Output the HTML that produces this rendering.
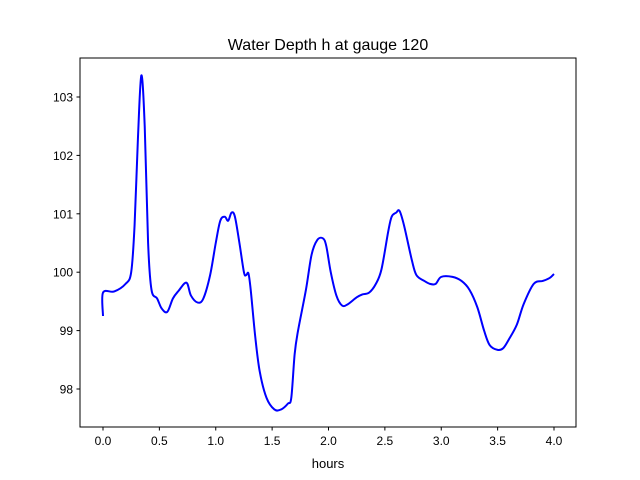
<!DOCTYPE html>
<html><head><meta charset="utf-8"><style>
body{margin:0;background:#fff;}
svg{display:block;font-family:"Liberation Sans","DejaVu Sans",sans-serif;}
</style></head><body>
<svg id="chart" width="640" height="480" viewBox="0 0 640 480">
<rect width="640" height="480" fill="#fff"/>
<text x="328" y="50" text-anchor="middle" font-size="16">Water Depth h at gauge 120</text>
<g id="plot"></g>
<rect x="80" y="58" width="496" height="369" fill="none" stroke="#000" stroke-width="1"/>
<text x="328" y="468" text-anchor="middle" font-size="13">hours</text>
</svg>
<script>
const hours=[0,0,0.1,0.2,0.25,0.28,0.31,0.34,0.37,0.40,0.43,0.48,0.52,0.57,0.62,0.67,0.74,0.78,0.84,0.89,0.95,1.0,1.04,1.08,1.11,1.14,1.17,1.21,1.25,1.27,1.29,1.31,1.35,1.39,1.45,1.52,1.58,1.64,1.67,1.7,1.73,1.8,1.85,1.9,1.95,1.98,2.02,2.07,2.12,2.17,2.25,2.3,2.36,2.42,2.47,2.53,2.56,2.6,2.63,2.67,2.74,2.78,2.85,2.9,2.95,3.0,3.1,3.18,3.25,3.32,3.38,3.43,3.5,3.55,3.6,3.67,3.73,3.82,3.9,3.96,4.0];
const depth=[99.25,99.65,99.67,99.8,100.0,100.8,102.3,103.37,102.5,100.5,99.7,99.55,99.38,99.32,99.55,99.68,99.82,99.6,99.48,99.55,99.95,100.5,100.88,100.95,100.88,101.02,100.95,100.5,100.0,99.95,99.98,99.7,98.9,98.3,97.85,97.65,97.65,97.75,97.85,98.6,99.0,99.7,100.3,100.55,100.58,100.45,100.0,99.6,99.43,99.45,99.57,99.62,99.65,99.8,100.05,100.7,100.95,101.02,101.05,100.8,100.2,99.95,99.85,99.8,99.8,99.92,99.92,99.85,99.7,99.4,99.0,98.75,98.67,98.7,98.85,99.1,99.45,99.8,99.85,99.9,99.97];
const xTicks=[0,0.5,1,1.5,2,2.5,3,3.5,4];
const xTickLabels=["0.0","0.5","1.0","1.5","2.0","2.5","3.0","3.5","4.0"];
const yTicks=[98,99,100,101,102,103];
const yTickLabels=["98","99","100","101","102","103"];
const X=v=>103+v*112.75;
const Y=v=>97+(103-v)*58.4;
const NS="http://www.w3.org/2000/svg";
const g=document.getElementById('plot');
function el(t,a){const e=document.createElementNS(NS,t);for(const k in a)e.setAttribute(k,a[k]);g.appendChild(e);return e;}
xTicks.forEach((t,i)=>{
 const l=el('line',{x1:X(t),x2:X(t),y1:427,y2:430.5,stroke:'#000'});
 
 
 const tx=el('text',{x:X(t),y:445,'text-anchor':'middle','font-size':'12'});
 tx.textContent=xTickLabels[i];
 
 
});
yTicks.forEach((t,i)=>{
 const l=el('line',{x1:76.5,x2:80,y1:Y(t),y2:Y(t),stroke:'#000'});
 
 
 const tx=el('text',{x:73,y:Y(t)+4.5,'text-anchor':'end','font-size':'12'});
 tx.textContent=yTickLabels[i];
 
 
});
const pts=hours.map((h,i)=>[X(h),Y(depth[i])]);
let d='M'+pts[0][0]+','+pts[0][1];
for(let i=1;i<pts.length;i++){
 const p0=pts[Math.max(i-2,0)],p1=pts[i-1],p2=pts[i],p3=pts[Math.min(i+1,pts.length-1)];
 const c1=[p1[0]+(p2[0]-p0[0])/6,p1[1]+(p2[1]-p0[1])/6];
 const c2=[p2[0]-(p3[0]-p1[0])/6,p2[1]-(p3[1]-p1[1])/6];
 d+=' C'+c1+' '+c2+' '+p2;
}
const path=el('path',{d:d,fill:'none',stroke:'#0000ff','stroke-width':'2','stroke-linejoin':'round'});


</script>
</body></html>
